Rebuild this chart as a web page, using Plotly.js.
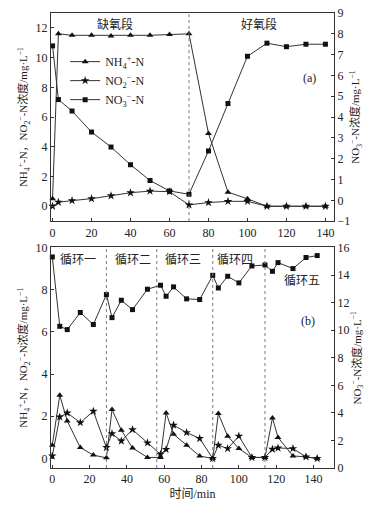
<!DOCTYPE html>
<html>
<head>
<meta charset="utf-8">
<script src="https://cdn.plot.ly/plotly-3.0.1.min.js"></script>
<style>html,body{margin:0;padding:0;background:#fff;}#chart{width:375px;height:508px;}</style>
</head>
<body>
<div id="chart"></div>
<script>
// ---- Panel (a) data ----
const timeA = [0, 3, 10, 20, 30, 40, 50, 60, 70, 80, 90, 100, 110, 120, 130, 140];
const nh4A  = [0.5, 11.6, 11.5, 11.5, 11.45, 11.5, 11.5, 11.55, 11.6, 4.9, 0.95, 0.5, 0, 0, 0, 0];
const no2A  = [0, 0.27, 0.38, 0.51, 0.71, 0.91, 1.02, 0.98, 0.09, 0.25, 0.33, 0.33, 0, 0, 0, 0];
const no3A  = [7.42, 4.84, 4.29, 3.28, 2.56, 1.71, 0.95, 0.45, 0.29, 2.37, 4.65, 6.92, 7.55, 7.38, 7.5, 7.5];
const phaseBoundaryA = [70];
const phaseLabelsA = ['缺氧段', '好氧段'];

// ---- Panel (b) data ----
const timeB = [0, 4, 8, 15, 22, 29, 32, 37, 43, 51, 58, 61, 65, 72, 79, 86, 89, 94, 100, 107, 114, 118, 121, 129, 136, 142];
const nh4B  = [0.63, 3.0, 1.78, 0.52, 0.16, 0.03, 2.32, 1.34, 0.5, 0.05, 0.05, 2.16, 1.15, 0.63, 0.12, 0, 2.13, 1.06, 0.47, 0.05, 0.05, 1.92, 1.0, 0.12, 0.08, 0];
const no2B  = [0.12, 1.97, 2.16, 1.7, 2.24, 0.52, 1.18, 0.83, 1.37, 0.74, 0.2, 0.43, 1.58, 1.23, 0.95, 0, 0.63, 0.47, 1.06, 0.05, 0.05, 0.44, 0.5, 0.47, 0.08, 0];
const no3B  = [15.31, 10.28, 10.04, 11.28, 10.41, 12.58, 10.91, 12.17, 11.49, 12.97, 13.26, 12.46, 13.14, 12.27, 12.22, 13.98, 13.06, 13.91, 13.43, 14.66, 14.73, 14.27, 14.9, 14.47, 15.27, 15.41];
const cycleBoundariesB = [29, 56, 86, 114];
const cycleLabelsB = ['循环一', '循环二', '循环三', '循环四', '循环五'];

const seriesNames = ['NH<sub>4</sub><sup>+</sup>-N', 'NO<sub>2</sub><sup>−</sup>-N', 'NO<sub>3</sub><sup>−</sup>-N'];
const xTicks = [0, 20, 40, 60, 80, 100, 120, 140];

const FONT = 'Liberation Serif, Times New Roman, Noto Sans CJK SC, serif';
const lineC = '#333';
const markC = '#111';

function tr(x, y, name, sym, size, xa, ya, show) {
  return {
    x: x, y: y, name: name, type: 'scatter', mode: 'lines+markers',
    xaxis: xa, yaxis: ya, showlegend: show, cliponaxis: false,
    line: {color: lineC, width: 1},
    marker: {symbol: sym, size: size, color: markC}
  };
}

const data = [
  tr(timeA, nh4A, seriesNames[0], 'triangle-up', 6, 'x', 'y', true),
  tr(timeA, no2A, seriesNames[1], 'star', 6.5, 'x', 'y', true),
  tr(timeA, no3A, seriesNames[2], 'square', 5, 'x', 'y2', true),
  tr(timeB, nh4B, seriesNames[0], 'triangle-up', 6, 'x2', 'y3', false),
  tr(timeB, no2B, seriesNames[1], 'star', 6.5, 'x2', 'y3', false),
  tr(timeB, no3B, seriesNames[2], 'square', 5, 'x2', 'y4', false)
];

const axBase = {
  showgrid: false, zeroline: false, showline: true, linecolor: '#333', linewidth: 1,
  ticks: 'inside', ticklen: 3, tickcolor: '#333',
  tickfont: {family: FONT, size: 12, color: '#222'}
};
const titleFont = {family: FONT, size: 11, color: '#222'};
const leftTitle = 'NH<sub>4</sub><sup>+</sup>-N，NO<sub>2</sub><sup>−</sup>-N浓度/mg·L<sup>−1</sup>';
const rightTitle = 'NO<sub>3</sub><sup>−</sup>-N浓度/mg·L<sup>−1</sup>';

const layout = {
  width: 375, height: 508,
  margin: {l: 51, r: 41, t: 13, b: 40},
  paper_bgcolor: '#fff', plot_bgcolor: '#fff',
  font: {family: FONT, color: '#222'},
  showlegend: true,
  legend: {x: 0.05, y: 0.925, xanchor: 'left', yanchor: 'top', bgcolor: 'rgba(0,0,0,0)',
           font: {family: FONT, size: 12, color: '#222'}, tracegroupgap: 0, itemwidth: 30},
  xaxis: Object.assign({}, axBase, {domain: [0, 1], anchor: 'y', range: [-0.8, 144.4], tickvals: xTicks, mirror: true}),
  yaxis: Object.assign({}, axBase, {domain: [0.5426, 1], anchor: 'x', range: [-1, 13], dtick: 2, tick0: 0,
           title: {text: leftTitle, font: titleFont, standoff: 5}}),
  yaxis2: Object.assign({}, axBase, {overlaying: 'y', side: 'right', anchor: 'x', range: [-1, 9], dtick: 1,
           title: {text: rightTitle, font: titleFont, standoff: 2}}),
  xaxis2: Object.assign({}, axBase, {domain: [0, 1], anchor: 'y3', range: [-0.7, 151], tickvals: xTicks, mirror: true,
           title: {text: '时间/min', font: {family: FONT, size: 12, color: '#222'}, standoff: 4}}),
  yaxis3: Object.assign({}, axBase, {domain: [0, 0.4847], anchor: 'x2', range: [-0.45, 10], dtick: 2, tick0: 0,
           title: {text: leftTitle, font: titleFont, standoff: 5}}),
  yaxis4: Object.assign({}, axBase, {overlaying: 'y3', side: 'right', anchor: 'x2', range: [0, 16], dtick: 2,
           title: {text: rightTitle, font: titleFont, standoff: 2}}),
  shapes: [],
  annotations: []
};

phaseBoundaryA.forEach(function (b) {
  layout.shapes.push({type: 'line', xref: 'x', yref: 'y domain', x0: b, x1: b, y0: 0, y1: 1,
    line: {color: '#777', width: 1, dash: 'dot'}});
});
cycleBoundariesB.forEach(function (b) {
  layout.shapes.push({type: 'line', xref: 'x2', yref: 'y3 domain', x0: b, x1: b, y0: 0, y1: 1,
    line: {color: '#777', width: 1, dash: 'dot'}});
});

const annFont = {family: FONT, size: 12, color: '#222'};
// phase labels (a)
layout.annotations.push({xref: 'x', yref: 'y', x: 32, y: 12.2, text: phaseLabelsA[0], showarrow: false, font: annFont});
layout.annotations.push({xref: 'x', yref: 'y', x: 106, y: 12.2, text: phaseLabelsA[1], showarrow: false, font: annFont});
layout.annotations.push({xref: 'x', yref: 'y', x: 132, y: 8.6, text: '(a)', showarrow: false, font: annFont});
// cycle labels (b)
const cycX = [14, 43, 70, 98, 134];
const cycY = [9.4, 9.4, 9.4, 9.4, 8.4];
cycleLabelsB.forEach(function (t, i) {
  layout.annotations.push({xref: 'x2', yref: 'y3', x: cycX[i], y: cycY[i], text: t, showarrow: false, font: annFont});
});
layout.annotations.push({xref: 'x2', yref: 'y3', x: 137, y: 6.5, text: '(b)', showarrow: false, font: annFont});

Plotly.newPlot('chart', data, layout, {displayModeBar: false, staticPlot: true});
</script>
</body>
</html>
